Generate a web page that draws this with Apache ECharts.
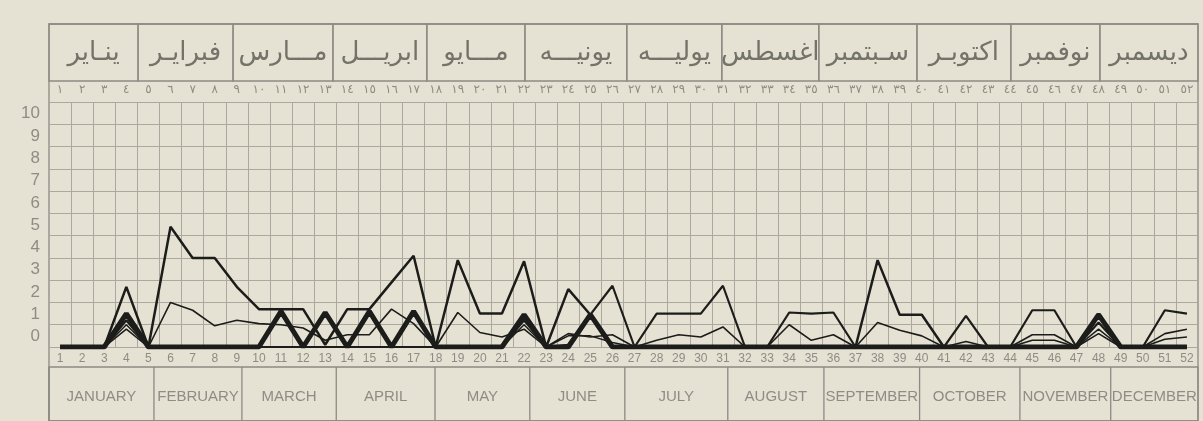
<!DOCTYPE html>
<html>
<head>
<meta charset="utf-8">
<title>Weekly chart</title>
<script src="https://cdn.jsdelivr.net/npm/echarts@6.0.0/dist/echarts.min.js"></script>
<style>
  html, body { margin: 0; padding: 0; background: #e5e2d4; }
  #chart { width: 1203px; height: 421px; }
</style>
</head>
<body>
<div id="chart"></div>
<script>
// weeks of the year
const weeks = [1, 2, 3, 4, 5, 6, 7, 8, 9, 10, 11, 12, 13, 14, 15, 16, 17, 18, 19, 20,
  21, 22, 23, 24, 25, 26, 27, 28, 29, 30, 31, 32, 33, 34, 35, 36, 37, 38, 39, 40,
  41, 42, 43, 44, 45, 46, 47, 48, 49, 50, 51, 52]

const monthsAr = ['ينـاير', 'فبرايـر', 'مـــارس', 'ابريـــل', 'مـــايو', 'يونيـــه',
  'يوليـــه', 'اغسطس', 'سـبتمبر', 'اكتوبـر', 'نوفمبر', 'ديسمبر']
const monthsEn = ['JANUARY', 'FEBRUARY', 'MARCH', 'APRIL', 'MAY', 'JUNE',
  'JULY', 'AUGUST', 'SEPTEMBER', 'OCTOBER', 'NOVEMBER', 'DECEMBER']
// month boundaries in week units (top and bottom rows differ slightly)
const monthEdgesAr = [0, 4.03, 8.33, 12.85, 17.1, 21.54, 26.15, 30.45, 34.84, 39.28, 43.53, 47.56, 52]
const monthEdgesEn = [0, 4.75, 8.73, 13.0, 17.47, 21.76, 26.06, 30.72, 35.07, 39.4, 43.94, 48.05, 52]

// series
const seriesA = [0, 0, 0, 2.7, 0, 5.4, 4.0, 4.0, 2.7, 1.7, 1.7, 1.7, 0.1, 1.7, 1.7, 2.9, 4.1, 0, 3.9, 1.5,
  1.5, 3.85, 0, 2.6, 1.45, 0.05, 0, 0, 0, 0, 0, 0, 0, 0, 0, 0, 0, 3.9, 1.45, 1.45,
  0, 0, 0, 0, 0, 0, 0, 1.5, 0, 0, 0, 0]
const seriesB = [0, 0, 0, 0.8, 0, 2.0, 1.65, 0.95, 1.2, 1.05, 1.0, 0.85, 0.3, 0.55, 0.55, 1.7, 1.05, 0, 1.55, 0.65,
  0.45, 0.8, 0, 0.6, 0.45, 0.55, 0, 0.3, 0.55, 0.45, 0.9, 0, 0, 1.0, 0.3, 0.55, 0, 1.1, 0.75, 0.5,
  0, 0.25, 0, 0, 0.55, 0.55, 0, 0.6, 0, 0, 0.6, 0.8]
const seriesC = [0, 0, 0, 1.5, 0, 0, 0, 0, 0, 0, 1.6, 0, 1.55, 0, 1.6, 0, 1.6, 0, 0, 0,
  0, 1.45, 0, 0, 1.45, 0, 0, 0, 0, 0, 0, 0, 0, 0, 0, 0, 0, 0, 0, 0,
  0, 0, 0, 0, 0, 0, 0, 1.45, 0, 0, 0, 0]
const seriesD = [0, 0, 0, 1.2, 0, 0, 0, 0, 0, 0, 0, 0, 0, 0, 0, 0, 0, 0, 0, 0,
  0, 1.2, 0, 0.1, 1.45, 2.75, 0, 1.5, 1.5, 1.5, 2.75, 0, 0, 1.55, 1.5, 1.55, 0, 0, 0, 0,
  0, 1.4, 0, 0, 1.65, 1.65, 0, 1.1, 0, 0, 1.65, 1.5]
const seriesE = [0, 0, 0, 1.0, 0, 0, 0, 0, 0, 0, 0, 0, 0, 0, 0, 0, 0, 0, 0, 0,
  0, 1.0, 0, 0.5, 0.5, 0.2, 0, 0, 0, 0, 0, 0, 0, 0, 0, 0, 0, 0, 0, 0,
  0, 0, 0, 0, 0.3, 0.3, 0, 0.8, 0, 0, 0.35, 0.45]

const arabicDigits = '٠١٢٣٤٥٦٧٨٩'
const toArabic = n => String(n).replace(/\d/g, d => arabicDigits[d])

const ink = '#1c1c1a'
const rule = '#8c8a82'
const grid = '#aaa89f'
const label = '#8e8c84'

const chart = echarts.init(document.getElementById('chart'))

function lineSeries(data, width) {
  return {
    type: 'line', xAxisIndex: 0, yAxisIndex: 0, data,
    symbol: 'none', smooth: false,
    lineStyle: { color: ink, width },
  }
}

chart.setOption({
  backgroundColor: '#e5e2d4',
  animation: false,
  grid: [
    { left: 49, right: 5, top: 102, height: 245 },
    { left: 49, right: 5, top: 24, height: 57 },
    { left: 49, right: 5, top: 367, height: 60, show: true, borderColor: rule, borderWidth: 1.3 },
    { left: 49, right: 5, top: 24, height: 410, show: true, borderColor: rule, borderWidth: 1.3 },
  ],
  xAxis: [
    {
      gridIndex: 0, type: 'category', data: weeks, position: 'bottom', boundaryGap: true,
      axisLine: { show: false }, axisTick: { show: false },
      axisLabel: { interval: 0, margin: 6, fontSize: 12, color: label, fontFamily: 'Liberation Sans' },
      splitLine: { show: true, interval: 0, lineStyle: { color: grid, width: 1 } },
    },
    {
      gridIndex: 0, type: 'category', data: weeks, position: 'top', boundaryGap: true,
      axisLine: { show: false }, axisTick: { show: false },
      axisLabel: { interval: 0, margin: 6, fontSize: 12, color: label, fontFamily: 'DejaVu Sans', formatter: v => toArabic(v) },
    },
    { gridIndex: 1, type: 'value', min: 0, max: 52, show: false },
    { gridIndex: 2, type: 'value', min: 0, max: 52, show: false },
    { gridIndex: 3, type: 'value', min: 0, max: 1, show: false },
  ],
  yAxis: [
    {
      gridIndex: 0, type: 'value', min: 0, max: 11, interval: 1,
      axisLine: { show: false }, axisTick: { show: false },
      axisLabel: {
        margin: 9, fontSize: 17, color: label, fontFamily: 'Liberation Sans',
        verticalAlign: 'bottom', padding: [0, 0, 2, 0],
        formatter: v => (v > 10 ? '' : String(v)),
      },
      splitLine: { show: true, lineStyle: { color: grid, width: 1 } },
    },
    { gridIndex: 1, type: 'value', min: 0, max: 1, show: false },
    { gridIndex: 2, type: 'value', min: 0, max: 1, show: false },
    { gridIndex: 3, type: 'value', min: 0, max: 1, show: false },
  ],
  series: [
    // Arabic month boxes
    {
      type: 'custom', xAxisIndex: 2, yAxisIndex: 1, silent: true,
      data: monthsAr.map((m, i) => [monthEdgesAr[i], monthEdgesAr[i + 1]]),
      renderItem: (params, api) => {
        const p0 = api.coord([api.value(0), 1])
        const p1 = api.coord([api.value(1), 0])
        return {
          type: 'group',
          children: [
            { type: 'rect', shape: { x: p0[0], y: p0[1], width: p1[0] - p0[0], height: p1[1] - p0[1] },
              style: { fill: 'none', stroke: rule, lineWidth: 1.3 } },
            { type: 'text', style: {
                text: monthsAr[params.dataIndex], x: (p0[0] + p1[0]) / 2, y: (p0[1] + p1[1]) / 2 + 1,
                align: 'center', verticalAlign: 'middle', fill: '#747369',
                font: '26px "DejaVu Sans"' } },
          ],
        }
      },
    },
    // English month row
    {
      type: 'custom', xAxisIndex: 3, yAxisIndex: 2, silent: true,
      data: monthsEn.map((m, i) => [monthEdgesEn[i], monthEdgesEn[i + 1]]),
      renderItem: (params, api) => {
        const p0 = api.coord([api.value(0), 1])
        const p1 = api.coord([api.value(1), 0])
        return {
          type: 'group',
          children: [
            { type: 'line', shape: { x1: p0[0], y1: p0[1], x2: p0[0], y2: p1[1] },
              style: { stroke: rule, lineWidth: 1.3 } },
            { type: 'text', style: {
                text: monthsEn[params.dataIndex], x: (p0[0] + p1[0]) / 2, y: p0[1] + 30,
                align: 'center', verticalAlign: 'middle', fill: '#8e8c84',
                font: '15px "Liberation Sans"' } },
          ],
        }
      },
    },
    lineSeries(seriesB, 1.6),
    lineSeries(seriesE, 1.5),
    lineSeries(seriesD, 2.2),
    lineSeries(seriesA, 2.5),
    lineSeries(seriesC, 5),
  ],
})
</script>
</body>
</html>
